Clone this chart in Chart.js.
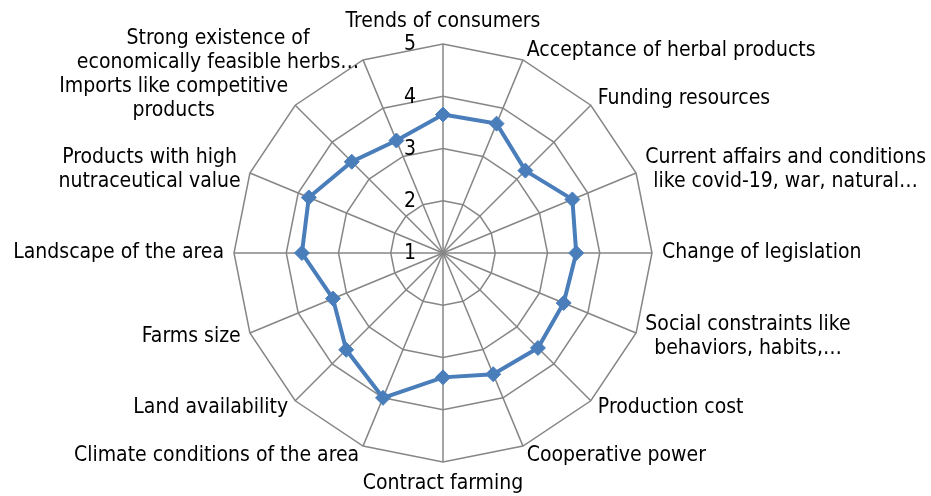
<!DOCTYPE html>
<html lang="en">
<head>
  <meta charset="UTF-8">
  <title>Radar chart</title>
  <script src="https://cdn.jsdelivr.net/npm/chart.js"></script>
  <style>
    html, body {
      margin: 0;
      padding: 0;
      background: #ffffff;
    }
    #wrap {
      position: relative;
      width: 931px;
      height: 496px;
    }
  </style>
</head>
<body>
  <div id="wrap"><canvas id="chart"></canvas></div>

  <script>
  const categories = [
    'Trends of consumers',
    'Acceptance of herbal products',
    'Funding resources',
    ['Current affairs and conditions', 'like covid-19, war, natural…'],
    'Change of legislation',
    ['Social constraints like', 'behaviors, habits,…'],
    'Production cost',
    'Cooperative power',
    'Contract farming',
    'Climate conditions of the area',
    'Land availability',
    'Farms size',
    'Landscape of the area',
    ['Products with high', 'nutraceutical value'],
    ['Imports like competitive', 'products'],
    ['Strong existence of', 'economically feasible herbs…']
  ];
  const scores = [3.65, 3.68, 3.23, 3.68, 3.55, 3.50, 3.57, 3.51, 3.38, 4.00, 3.62, 3.28, 3.70, 3.78, 3.47, 3.33];
  const tickValues = [1, 2, 3, 4, 5];

  const FONT = '21px "DejaVu Sans Condensed", "Liberation Sans", sans-serif';
  const LINE_H = 24;

  // tick numbers and category names drawn Excel-style from the radial scale
  const excelText = {
    id: 'excelText',
    beforeDatasetsDraw(chart) {
      const r = chart.scales.r;
      const ctx = chart.ctx;
      ctx.save();
      ctx.font = FONT;
      ctx.fillStyle = '#000000';
      ctx.textBaseline = 'middle';
      ctx.textAlign = 'right';
      tickValues.forEach(v => {
        const p = r.getPointPositionForValue(0, v);
        ctx.fillText(String(v), p.x - 27, p.y + 1);
      });
      ctx.restore();
    },
    afterDatasetsDraw(chart) {
      const r = chart.scales.r;
      const ctx = chart.ctx;
      ctx.save();
      ctx.font = FONT;
      ctx.fillStyle = '#000000';
      ctx.textBaseline = 'middle';
      ctx.textAlign = 'center';
      categories.forEach((lab, i) => {
        const lines = Array.isArray(lab) ? lab : [lab];
        const ang = r.getIndexAngle(i);
        const s = Math.sin(ang), c = Math.cos(ang);
        const p = r.getPointPosition(i, r.drawingArea + 10);
        const w = Math.max(...lines.map(t => ctx.measureText(t).width));
        const h = lines.length * LINE_H;
        let cx = p.x, cy = p.y;
        if (s > 0.05) cx = p.x + w / 2;
        else if (s < -0.05) cx = p.x - w / 2;
        else cy = c > 0 ? p.y - h / 2 : p.y + h / 2;
        lines.forEach((t, k) => {
          ctx.fillText(t, cx, cy - h / 2 + LINE_H * (k + 0.5));
        });
      });
      ctx.restore();
    }
  };

  new Chart(document.getElementById('chart'), {
    type: 'radar',
    data: {
      labels: categories,
      datasets: [{
        data: scores,
        borderColor: '#4a7ebb',
        backgroundColor: '#4a7ebb',
        borderWidth: 4,
        fill: false,
        pointStyle: 'rectRot',
        pointRadius: 7.5,
        pointBorderWidth: 1,
        pointBackgroundColor: '#4a7ebb',
        pointBorderColor: '#4a7ebb'
      }]
    },
    options: {
      responsive: true,
      maintainAspectRatio: false,
      animation: false,
      layout: { padding: { top: 44, bottom: 34, left: 0, right: 45 } },
      plugins: {
        legend: { display: false },
        tooltip: { enabled: false }
      },
      scales: {
        r: {
          min: 1,
          max: 5,
          ticks: { display: false, stepSize: 1 },
          pointLabels: { display: false },
          grid: { color: '#868686', lineWidth: 1.5 },
          angleLines: { color: '#868686', lineWidth: 1.5 }
        }
      }
    },
    plugins: [excelText]
  });
  </script>
</body>
</html>
